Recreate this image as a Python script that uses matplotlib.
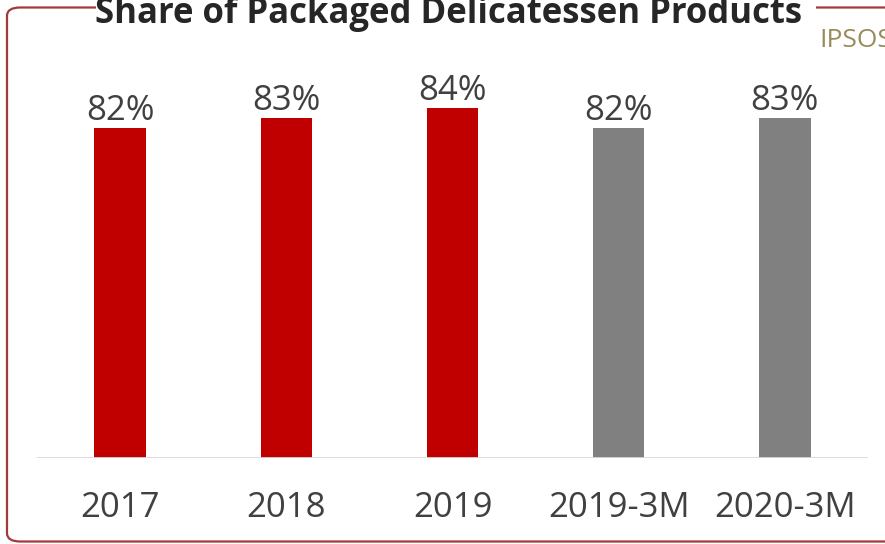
import matplotlib
matplotlib.use("Agg")
import matplotlib.pyplot as plt
from matplotlib.patches import FancyBboxPatch, Rectangle

periods = ["2017", "2018", "2019", "2019-3M", "2020-3M"]
share = [82, 83, 84, 82, 83]
bar_colors = ["#c00000", "#c00000", "#c00000", "#808080", "#808080"]

W, H = 885, 544
plt.rcParams["font.family"] = ["Open Sans", "DejaVu Sans"]

fig = plt.figure(figsize=(W / 100, H / 100), dpi=100)


def fx(px):
    return px / W


def fy(py):
    return 1 - py / H


# frame around the chart, with a gap in the top edge for the title
frame = FancyBboxPatch((fx(7), fy(541.5)), fx(900) - fx(7), fy(7.5) - fy(541.5),
                       boxstyle="round,pad=0,rounding_size=0.015",
                       transform=fig.transFigure, facecolor="none",
                       edgecolor="#a33a3a", linewidth=1.6, zorder=1)
fig.patches.append(frame)
fig.patches.append(Rectangle((fx(96), fy(16)), fx(816) - fx(96), fy(0) - fy(16),
                             transform=fig.transFigure, facecolor="white",
                             edgecolor="none", zorder=2))

fig.text(fx(448.5), fy(23), "Share of Packaged Delicatessen Products",
         ha="center", va="baseline", fontsize=25, fontweight="bold",
         color="#262626", zorder=3)
fig.text(fx(819), fy(47), "IPSOS", ha="left", va="baseline",
         fontsize=19, color="#978c5a", zorder=3)

base_y = 457.7
top_y = 60
ax = fig.add_axes([fx(37), fy(base_y), fx(868) - fx(37), fy(top_y) - fy(base_y)])
ax.set_zorder(4)
ax.patch.set_alpha(0)

x = range(len(periods))
bars = ax.bar(x, share, width=0.31, color=bar_colors, zorder=2)
for b, v in zip(bars, share):
    ax.annotate(f"{v}%", (b.get_x() + b.get_width() / 2, v),
                xytext=(0, 5.8), textcoords="offset points",
                ha="center", va="baseline", fontsize=25, color="#404040")

ymin = 49.55
ax.set_ylim(ymin, ymin + (base_y - top_y) / 10.15)
ax.set_xlim(-0.5, len(periods) - 0.5)
ax.axhline(ymin, color="#d9d9d9", linewidth=2, zorder=3)

ax.set_xticks(list(x))
ax.set_xticklabels(periods, fontsize=25, color="#404040")
ax.tick_params(axis="x", length=0, pad=24)
ax.set_yticks([])
for s in ax.spines.values():
    s.set_visible(False)

fig.savefig("out.png", dpi=100)
